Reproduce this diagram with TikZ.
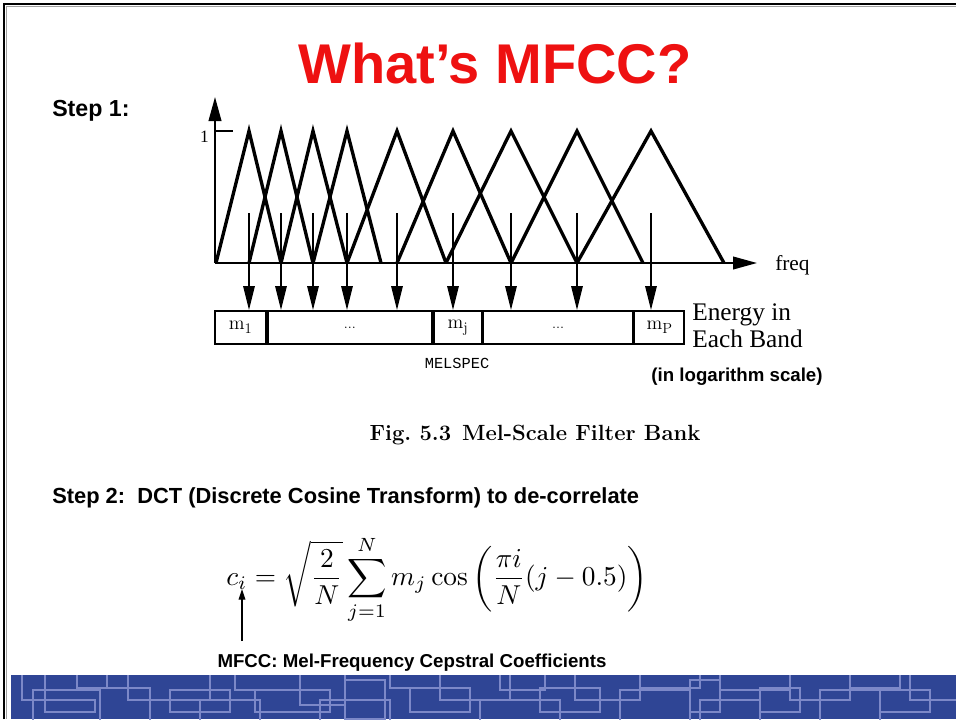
\documentclass[tikz,border=0pt]{standalone}
\usepackage{fontspec}
\setsansfont{Liberation Sans}
\setmonofont{Liberation Mono}
\newfontfamily\timesfont{Liberation Serif}
\usetikzlibrary{positioning,arrows.meta}
\definecolor{titlered}{HTML}{EE1111}
\definecolor{band}{HTML}{2F4595}
\definecolor{bandline}{HTML}{7C88C8}
\definecolor{framegray}{HTML}{A0A0A0}
\newcommand{\melsub}[1]{m\raisebox{-0.45ex}{\fontsize{11}{11}\selectfont #1}}
\tikzset{
  filter/.style={line width=2.5pt},
  axis/.style={line width=1.4pt,-{Triangle[length=18pt,width=9.5pt]}},
  downarrow/.style={line width=1.4pt,-{Triangle[length=18pt,width=8.5pt]}},
  ciarrow/.style={line width=1pt,-{Triangle[length=8pt,width=5pt]}},
  cell/.style={draw,line width=1.4pt,minimum height=24.75pt,inner sep=0pt,
               font=\fontsize{14.5}{14.5}\selectfont},
  serif/.style={inner sep=0pt,font=\timesfont\fontsize{#1}{#1}\selectfont},
  serif/.default=16,
  bold/.style={inner sep=0pt,font=\sffamily\bfseries\fontsize{#1}{#1}\selectfont},
  bold/.default=16.4,
  bandline/.style={draw=bandline,line width=1.2pt},
}
\begin{document}
\begin{tikzpicture}[x=0.75pt,y=-0.75pt]
  \useasboundingbox (0,0) rectangle (956,719);
  \fill[band] (11,675) rectangle (956,719);
  \begin{scope}
    \clip (11,675) rectangle (956,719);
    \foreach \a/\b/\c/\d in {22/665/45/700, 33/690/100/740, 45/700/95/712, 77/660/107/688,
      100/688/150/730, 128/668/210/700, 170/690/230/712, 200/700/260/740, 235/660/300/690,
      255/690/330/712, 300/665/345/705, 320/700/390/740, 345/680/385/719, 390/662/440/688,
      410/688/470/712, 440/670/510/700, 480/700/560/740, 500/660/545/690, 540/688/600/712,
      575/668/640/700, 620/690/690/740, 640/660/700/688, 690/680/720/712, 700/700/760/740,
      720/662/790/690, 760/688/800/712, 790/670/850/700, 820/690/880/740, 850/660/900/688,
      880/690/930/712, 910/670/960/700}
      \draw[bandline] (\a,\b) rectangle (\c,\d);
  \end{scope}
  \draw[framegray,line width=0.8pt] (6.5,719) -- (6.5,6.5) -- (956,6.5);
  \draw[line width=1.6pt] (4,719) -- (4,4) -- (956,4);

  \node[bold=42,text=titlered,anchor=base] (title) at (495,83) {What’s MFCC?};
  \node[bold=17.4,anchor=base west] (step1) at (52,116) {Step 1:};

  \coordinate (o) at (215,263);
  \coordinate (ytop) at (215,97);
  \coordinate (xend) at (757,263);
  \draw[axis] (o) -- (ytop);
  \draw[axis] (o) -- (xend);
  \draw[line width=1.4pt] (215,131) -- (233,131);
  \node[serif=13,anchor=base east] (one) at (209,142) {1};
  \node[serif,anchor=base west] (freq) at (775,270) {freq};
  \foreach \l/\p/\r in {216/249/281, 249/281/313, 281/313/347, 313/347/381, 347/397/446,
      397/453/511, 446/511/577, 511/577/643, 577/651/724}
    \draw[filter] (\l,263) -- (\p,131) -- (\r,263);

  \node[cell,minimum width=38.25pt,anchor=west] (mone) at (214,327.5) {\melsub{1}};
  \node[cell,minimum width=123pt,right=0pt of mone] (dotsa) {\fontsize{11}{11}\selectfont ...};
  \node[cell,minimum width=36pt,right=0pt of dotsa] (mj) {\melsub{j}};
  \node[cell,minimum width=111.75pt,right=0pt of mj] (dotsb) {\fontsize{11}{11}\selectfont ...};
  \node[cell,minimum width=37.5pt,right=0pt of dotsb] (mp) {\melsub{P}};
  \foreach \x [count=\i] in {249,281,313,347,397,453,511,577,651} {
    \coordinate (t\i) at (\x,213);
    \draw[downarrow] (t\i) -- (t\i |- mone.north);
  }
  \node[serif=19,anchor=base west,align=left,font=\timesfont\fontsize{19}{20.25}\selectfont]
    (energy) at (692,347) {Energy in\\Each Band};
  \node[font=\ttfamily\fontsize{11.5}{12}\selectfont,inner sep=0pt] (melspec) at (457,363) {MELSPEC};
  \node[bold=14,anchor=base] (logscale) at (737,381) {(in logarithm scale)};
  \node[font=\bfseries\fontsize{16.5}{16.5}\selectfont,inner sep=0pt,anchor=base] (caption) at (535,440)
    {Fig.~5.3\enspace Mel-Scale Filter Bank};

  \node[bold,anchor=base west] (step2) at (52,503) {Step 2:\ \ DCT (Discrete Cosine Transform) to de-correlate};
  \node[inner sep=0pt] (dct) at (437,580)
    {\scalebox{2.05}{$\displaystyle c_i=\sqrt{\frac{2}{N}}\sum_{j=1}^{N}m_j\cos\left(\frac{\pi i}{N}(j-0.5)\right)$}};
  \node[bold=14,anchor=base] (mfcc) at (412,667) {MFCC: Mel-Frequency Cepstral Coefficients};
  \coordinate (cibase) at (242,641);
  \coordinate (citip) at (242,589);
  \draw[ciarrow] (cibase) -- (citip);
\end{tikzpicture}
\end{document}
